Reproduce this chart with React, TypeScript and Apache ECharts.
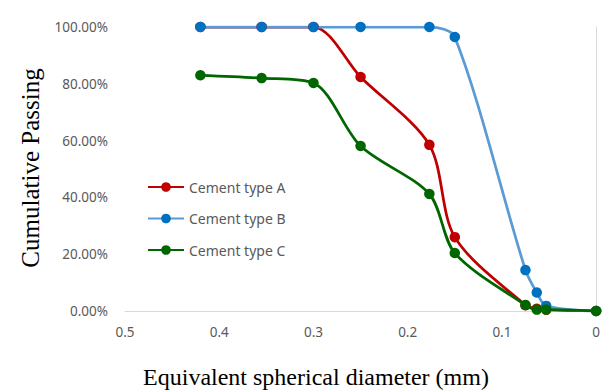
import React, { useEffect, useRef } from "react";
import * as echarts from "echarts";

const diameters = [0.42, 0.355, 0.3, 0.25, 0.177, 0.15, 0.075, 0.063, 0.053, 0];
const cementA = [100, 100, 100, 82.4, 58.5, 26, 2, 0.8, 0.5, 0];
const cementB = [100, 100, 100, 100, 100, 96.5, 14.4, 6.5, 1.8, 0];
const cementC = [83, 82, 80.3, 58.1, 41.2, 20.4, 2.1, 0.5, 0.5, 0];
const seriesNames = ["Cement type A", "Cement type B", "Cement type C"];
const yTitle = "Cumulative Passing";
const xTitle = "Equivalent spherical diameter (mm)";

const pair = (ys: number[]) => diameters.map((d, i) => [d, ys[i]]);

export default function App() {
  const ref = useRef<HTMLDivElement>(null);
  useEffect(() => {
    if (!ref.current) return;
    const chart = echarts.init(ref.current, null, { renderer: "svg" });
    const labelFont = { fontFamily: "Noto Sans", fontSize: 13.5, color: "#595959" };
    const mk = (name: string, ys: number[], line: string, marker: string) => ({
      name,
      type: "line",
      data: pair(ys),
      smooth: 0.3,
      symbol: "circle",
      symbolSize: 10.5,
      lineStyle: { color: line, width: 2.75 },
      itemStyle: { color: marker },
    });
    chart.setOption({
      animation: false,
      grid: { left: 125, right: 3, top: 27, bottom: 80 },
      legend: {
        orient: "vertical",
        left: 142,
        top: 175,
        itemWidth: 36,
        itemHeight: 12,
        itemGap: 17.5,
        textStyle: { ...labelFont, fontSize: 14 },
        data: seriesNames,
      },
      xAxis: {
        type: "value",
        min: 0,
        max: 0.5,
        interval: 0.1,
        inverse: true,
        axisLine: { show: true, lineStyle: { color: "#d9d9d9", width: 1 } },
        axisTick: { show: false },
        splitLine: { show: false },
        axisLabel: {
          ...labelFont,
          margin: 14,
          formatter: (v: number) => (v === 0 ? "0" : v.toFixed(1)),
        },
      },
      yAxis: [
        {
          type: "value",
          min: 0,
          max: 100,
          interval: 20,
          axisLine: { show: false },
          axisTick: { show: false },
          splitLine: { show: false },
          axisLabel: {
            ...labelFont,
            margin: 17,
            formatter: (v: number) => v.toFixed(2) + "%",
          },
        },
        {
          type: "value",
          min: 0,
          max: 100,
          interval: 20,
          position: "right",
          axisLine: { show: true, lineStyle: { color: "#d9d9d9", width: 1 } },
          axisTick: { show: false },
          splitLine: { show: false },
          axisLabel: { show: false },
        },
      ],
      series: [
        mk(seriesNames[0], cementA, "#C00000", "#C00000"),
        mk(seriesNames[1], cementB, "#5B9BD5", "#0070C0"),
        mk(seriesNames[2], cementC, "#006600", "#006600"),
      ],
      graphic: [
        {
          type: "text",
          x: 30,
          y: 168,
          rotation: Math.PI / 2,
          style: {
            text: yTitle,
            font: '25px "Liberation Serif"',
            fill: "#000",
            align: "center",
            verticalAlign: "middle",
          },
        },
        {
          type: "text",
          x: 316,
          y: 377,
          style: {
            text: xTitle,
            font: '24px "Liberation Serif"',
            fill: "#000",
            align: "center",
            verticalAlign: "middle",
          },
        },
      ],
    });
    return () => chart.dispose();
  }, []);
  return <div ref={ref} style={{ width: 603, height: 391, position: "absolute", left: 0, top: 0 }} />;
}
